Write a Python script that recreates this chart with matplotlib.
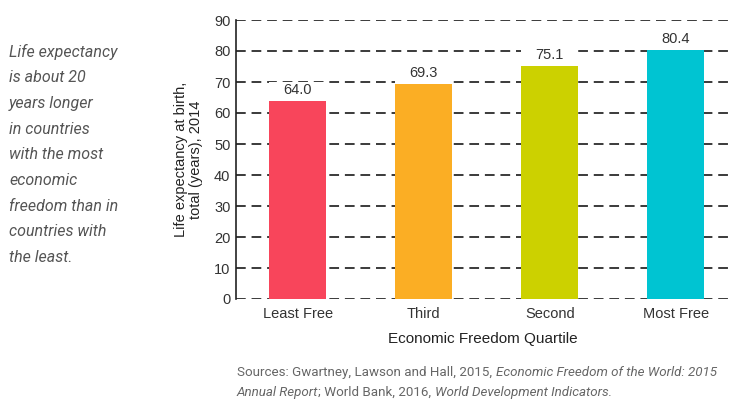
import matplotlib
matplotlib.use("Agg")
import matplotlib.pyplot as plt

categories = ["Least Free", "Third", "Second", "Most Free"]
values = [64.0, 69.3, 75.1, 80.4]
colors = ["#F8455B", "#FBAE24", "#CCD100", "#00C4D2"]
yticks = [0, 10, 20, 30, 40, 50, 60, 70, 80, 90]

plt.rcParams['font.family'] = ['Liberation Sans', 'DejaVu Sans']

fig = plt.figure(figsize=(7.31, 4.0), dpi=100)
ax = fig.add_axes([236/731, 1-299/400, (730-236)/731, (299-20)/400])

x = list(range(len(categories)))
bw = 0.45
ax.bar(x, values, width=bw, color=colors, zorder=3)
# white label area above each bar (hides the grid behind the value labels)
ax.bar(x, [6.0] * len(values), bottom=values, width=bw, color="white", zorder=2)
for xi, v in zip(x, values):
    ax.text(xi, v + 1.2, f"{v:.1f}", ha="center", va="bottom", fontsize=10.5, color="#333333", zorder=4)

ax.set_xlim(-0.49, 3.43)
ax.set_ylim(0, 90)
ax.set_yticks(yticks)
ax.set_xticks(x)
ax.set_xticklabels(categories)
ax.tick_params(axis="both", length=0, labelsize=10.5, colors="#333333", pad=4)
ax.tick_params(axis="x", pad=6)
for yt in yticks:
    ax.axhline(yt, color="#3a3a3a", lw=1.4, ls=(0, (5, 3)), zorder=1)
for s in ["top", "right", "bottom"]:
    ax.spines[s].set_visible(False)
ax.spines["left"].set_color("#222222")
ax.spines["left"].set_linewidth(1.2)

ax.set_xlabel("Economic Freedom Quartile", fontsize=11, color="#222222", labelpad=8)
ax.set_ylabel("Life expectancy at birth,\ntotal (years), 2014", fontsize=10.5, color="#222222", labelpad=8, linespacing=1.1)

side_lines = ["Life expectancy", "is about 20", "years longer", "in countries",
              "with the most", "economic", "freedom than in", "countries with", "the least."]
for i, line in enumerate(side_lines):
    fig.text(9/731, 1-(52 + i*25.7)/400, line, fontsize=11.5, style="italic",
             color="#555555", va="center", ha="left", family=["Roboto", "DejaVu Sans"])

src1 = [("Sources: Gwartney, Lawson and Hall, 2015, ", "normal"),
        ("Economic Freedom of the World: 2015", "italic")]
src2 = [("Annual Report", "italic"), ("; World Bank, 2016, ", "normal"),
        ("World Development Indicators.", "italic")]
for ypix, parts in [(376, src1), (396, src2)]:
    prev = None
    for txt, st in parts:
        if prev is None:
            prev = fig.text(237/731, 1-ypix/400, txt, fontsize=9.6, style=st,
                            color="#666666", va="baseline", ha="left", family=["Roboto", "DejaVu Sans"])
        else:
            prev = ax.annotate(txt, xy=(1, 0), xycoords=prev, fontsize=9.6, style=st,
                               color="#666666", va="bottom", ha="left", family=["Roboto", "DejaVu Sans"])

fig.savefig("out.png", dpi=100)
